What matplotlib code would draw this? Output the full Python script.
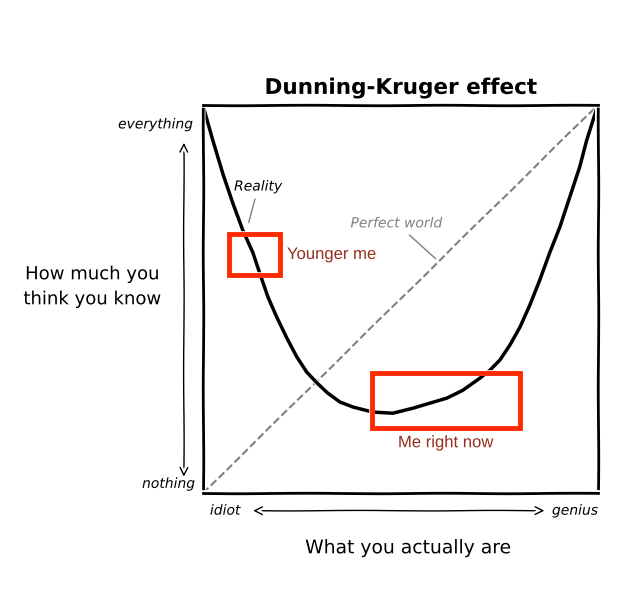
import matplotlib
matplotlib.use("Agg")
import matplotlib.pyplot as plt
from matplotlib.patches import Rectangle

# values (x: what you are, y: what you think you know)
curve_x = [0.0, 0.025, 0.051, 0.076, 0.101, 0.127, 0.144, 0.165, 0.187, 0.213,
           0.238, 0.263, 0.289, 0.316, 0.347, 0.380, 0.430, 0.481, 0.532, 0.575,
           0.618, 0.658, 0.701, 0.727, 0.752, 0.777, 0.803, 0.828, 0.853, 0.878,
           0.904, 0.929, 0.954, 0.972, 1.0]
curve_y = [1.0, 0.910, 0.822, 0.747, 0.678, 0.619, 0.567, 0.505, 0.454, 0.399,
           0.351, 0.312, 0.284, 0.258, 0.235, 0.222, 0.209, 0.206, 0.219, 0.232,
           0.245, 0.265, 0.296, 0.317, 0.343, 0.381, 0.428, 0.485, 0.549, 0.619,
           0.686, 0.763, 0.840, 0.910, 1.0]
perfect_x = [0, 1]
perfect_y = [0, 1]

young_box = (0.066, 0.562, 0.129, 0.106)   # x, y, w, h
now_box = (0.428, 0.168, 0.375, 0.141)

plt.xkcd(scale=0.25, length=150, randomness=2)
plt.rcParams["font.family"] = ["DejaVu Sans"]

fig = plt.figure(figsize=(6.26, 6.0), dpi=100)
ax = fig.add_axes([0.324, 0.178, 0.631, 0.647])
ax.set_xlim(0, 1)
ax.set_ylim(0, 1)
ax.set_xticks([])
ax.set_yticks([])
for s in ax.spines.values():
    s.set_linewidth(2)
    s.set_color("black")

ax.plot(perfect_x, perfect_y, color="gray", linestyle="--", linewidth=1.5)
line, = ax.plot(curve_x, curve_y, color="black", linewidth=2.5,
                solid_joinstyle="round")
line.set_sketch_params(scale=None)

red = "#ff2a00"
for b in (young_box, now_box):
    r = Rectangle(b[:2], b[2], b[3], fill=False, edgecolor=red,
                  linewidth=3.5, zorder=5)
    r.set_sketch_params(scale=None)
    ax.add_patch(r)

txt_red = "#962d1e"
ax.text(0.213, 0.615, "Younger me", color=txt_red, fontsize=12,
        family="Liberation Sans", va="center", ha="left")
ax.text(0.615, 0.13, "Me right now", color=txt_red, fontsize=12,
        family="Liberation Sans", va="center", ha="center")

ax.annotate("Reality", xy=(0.115, 0.69), xytext=(0.14, 0.79),
            fontsize=10, style="italic", ha="center", va="center",
            arrowprops=dict(arrowstyle="-", color="gray", lw=1))
ax.annotate("Perfect world", xy=(0.595, 0.6), xytext=(0.49, 0.695),
            fontsize=10, style="italic", color="gray", ha="center", va="center",
            arrowprops=dict(arrowstyle="-", color="gray", lw=1))

ax.set_title("Dunning-Kruger effect", fontsize=15.5, fontweight="bold", pad=8)

# y axis labels and arrow
ax.text(-0.025, 0.95, "everything", transform=ax.transAxes, ha="right",
        va="center", fontsize=10, style="italic")
ax.text(-0.02, 0.024, "nothing", transform=ax.transAxes, ha="right",
        va="center", fontsize=10, style="italic")
ax.annotate("", xy=(-0.048, 0.91), xytext=(-0.048, 0.035),
            xycoords="axes fraction", textcoords="axes fraction",
            arrowprops=dict(arrowstyle="<->", color="black", lw=1))
fig.text(0.147, 0.522, "How much you\nthink you know", ha="center",
         va="center", fontsize=13, linespacing=1.5)

# x axis labels and arrow
ax.text(0.018, -0.045, "idiot", transform=ax.transAxes, ha="left",
        va="center", fontsize=10, style="italic")
ax.text(1.0, -0.045, "genius", transform=ax.transAxes, ha="right",
        va="center", fontsize=10, style="italic")
ax.annotate("", xy=(0.872, -0.045), xytext=(0.12, -0.045),
            xycoords="axes fraction", textcoords="axes fraction",
            arrowprops=dict(arrowstyle="<->", color="black", lw=1))
fig.text(0.652, 0.087, "What you actually are", ha="center", va="center",
         fontsize=13.5)

fig.savefig("out.png", dpi=100)
